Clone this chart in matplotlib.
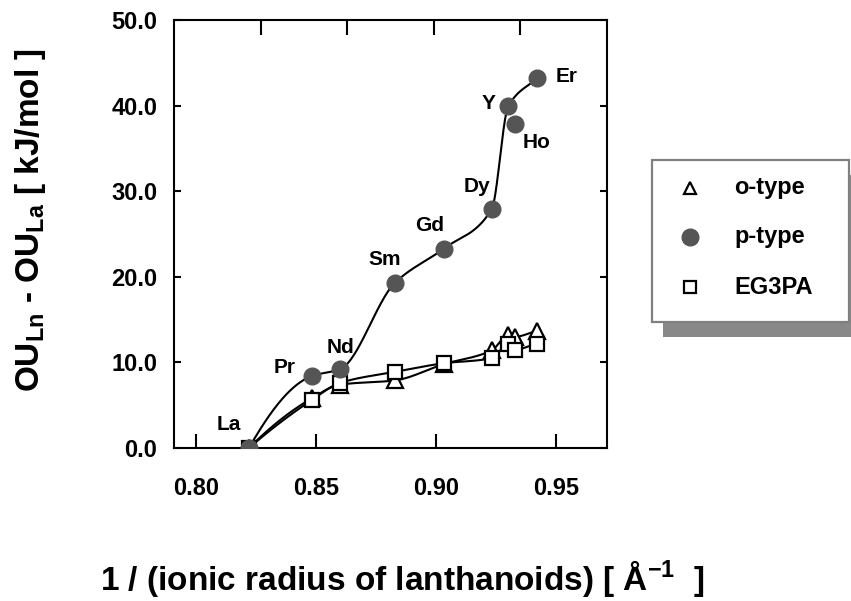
import numpy as np
import matplotlib
matplotlib.use("Agg")
import matplotlib.pyplot as plt
from matplotlib.patches import Rectangle
from matplotlib.lines import Line2D

# ---------------- data ----------------
elements = ["La", "Pr", "Nd", "Sm", "Gd", "Dy", "Y", "Ho", "Er"]
inv_radius = [0.8221, 0.8482, 0.8600, 0.8829, 0.9033, 0.9232, 0.9301, 0.9329, 0.9420]
p_type = [0.0, 8.4, 9.2, 19.3, 23.3, 27.9, 39.9, 37.9, 43.2]
o_type = [0.0, 5.8, 7.4, 7.9, 9.8, 11.4, 13.2, 13.0, 13.7]
eg3pa = [0.0, 5.6, 7.6, 8.9, 9.9, 10.5, 12.2, 11.5, 12.2]
p_on_curve = [True, True, True, True, True, True, True, False, True]

x_ticks = [0.80, 0.85, 0.90, 0.95]
x_ticklabels = ["0.80", "0.85", "0.90", "0.95"]
y_ticks = [0, 10, 20, 30, 40, 50]
y_ticklabels = ["0.0", "10.0", "20.0", "30.0", "40.0", "50.0"]

# label offsets (pixels) for element names
label_dx = [-20, -27, 0, -10, -14, -15, -20, 22, 30]
label_dy = [23, 9, 22, 23, 23, 23, 3, -19, 2]

plt.rcParams["font.family"] = ["Liberation Sans", "DejaVu Sans"]
plt.rcParams["font.weight"] = "bold"
plt.rcParams["mathtext.fontset"] = "custom"
plt.rcParams["mathtext.rm"] = "Liberation Sans:bold"
plt.rcParams["mathtext.bf"] = "Liberation Sans:bold"
plt.rcParams["mathtext.it"] = "Liberation Sans:bold"


def pchip(x, y, n=60):
    x = np.asarray(x, float)
    y = np.asarray(y, float)
    h = np.diff(x)
    delta = np.diff(y) / h
    m = np.zeros_like(x)
    for k in range(1, len(x) - 1):
        if delta[k - 1] * delta[k] <= 0:
            m[k] = 0.0
        else:
            w1 = 2 * h[k] + h[k - 1]
            w2 = h[k] + 2 * h[k - 1]
            m[k] = (w1 + w2) / (w1 / delta[k - 1] + w2 / delta[k])
    d = ((2 * h[0] + h[1]) * delta[0] - h[0] * delta[1]) / (h[0] + h[1])
    m[0] = d if np.sign(d) == np.sign(delta[0]) else delta[0]
    m[-1] = delta[-1]
    xs, ys = [], []
    for k in range(len(x) - 1):
        t = np.linspace(0, 1, n)
        h00 = 2 * t**3 - 3 * t**2 + 1
        h10 = t**3 - 2 * t**2 + t
        h01 = -2 * t**3 + 3 * t**2
        h11 = t**3 - t**2
        xs.append(x[k] + t * h[k])
        ys.append(h00 * y[k] + h10 * h[k] * m[k] + h01 * y[k + 1] + h11 * h[k] * m[k + 1])
    return np.concatenate(xs), np.concatenate(ys)


W, H = 851, 601
fig = plt.figure(figsize=(W / 100, H / 100), dpi=100)
ax = fig.add_axes([174 / W, 1 - 448 / H, (607 - 174) / W, (448 - 20) / H])

x = np.array(inv_radius)
mask = np.array(p_on_curve)

# curves
cx, cy = pchip(x[mask], np.array(p_type)[mask])
ax.plot(cx, cy, color="black", lw=1.5, zorder=2)
cx, cy = pchip(x, o_type)
ax.plot(cx, cy, color="black", lw=1.5, zorder=2)
cx, cy = pchip(x, eg3pa)
ax.plot(cx, cy, color="black", lw=1.5, zorder=2)

# markers
ax.plot(x, o_type, ls="none", marker="^", ms=11, mfc="white", mec="black", mew=1.6, zorder=3)
ax.plot(x, eg3pa, ls="none", marker="s", ms=10.5, mfc="white", mec="black", mew=1.6, zorder=3)
ax.plot(x, p_type, ls="none", marker="o", ms=12, mfc="#555555", mec="#555555", zorder=4)

for el, xi, yi, dx, dy in zip(elements, inv_radius, p_type, label_dx, label_dy):
    ax.annotate(el, (xi, yi), xytext=(dx, dy), textcoords="offset pixels",
                ha="center", va="center", fontsize=15, fontweight="bold")

ax.set_xlim(0.80 - 22 / 120 * 0.05, 0.80 + 411 / 120 * 0.05)
ax.set_ylim(0, 50)
ax.set_xticks(x_ticks)
ax.set_xticklabels(x_ticklabels)
ax.set_yticks(y_ticks)
ax.set_yticklabels(y_ticklabels)
ax.tick_params(axis="x", direction="in", length=10, width=1.5, pad=21, labelsize=17)
ax.tick_params(axis="y", direction="in", length=5, width=1.5, pad=12, labelsize=17,
               right=True)
for s in ax.spines.values():
    s.set_linewidth(1.5)

# top ticks dividing the frame into five
top = ax.twiny()
top.set_xlim(0, 1)
top.set_xticks([0.2, 0.4, 0.6, 0.8])
top.tick_params(axis="x", direction="in", length=11, width=1.5, labeltop=False)
for s in top.spines.values():
    s.set_visible(False)

fig.text(31 / W, 1 - 220 / H,
         r"$\mathbf{OU}_{\mathbf{Ln}}$ - $\mathbf{OU}_{\mathbf{La}}$ [ kJ/mol ]",
         rotation=90, ha="center", va="center", fontsize=24, fontweight="bold")
fig.text(402 / W, 1 - 590 / H,
         r"1 / (ionic radius of lanthanoids) [ Å$^{\mathbf{-1}}$  ]",
         ha="center", va="baseline", fontsize=24, fontweight="bold")


# legend (figure pixel coordinates)
def fx(px):
    return px / W


def fy(py):
    return 1 - py / H


fig.add_artist(Rectangle((fx(663), fy(337)), fx(860) - fx(663), fy(175) - fy(337),
                         transform=fig.transFigure, facecolor="#888888", edgecolor="none", zorder=1))
fig.add_artist(Rectangle((fx(652), fy(322)), fx(849) - fx(652), fy(160) - fy(322),
                         transform=fig.transFigure, facecolor="white", edgecolor="#808080",
                         lw=1.6, zorder=2))
rows = [("^", "o-type", 188, dict(ms=9, mfc="white", mec="black", mew=1.6)),
        ("o", "p-type", 237, dict(ms=12, mfc="#555555", mec="#555555")),
        ("s", "EG3PA", 287, dict(ms=9, mfc="white", mec="black", mew=1.6))]
for mk, txt, ry, kw in rows:
    fig.add_artist(Line2D([fx(690)], [fy(ry)], transform=fig.transFigure, marker=mk,
                          ls="none", zorder=3, **kw))
    fig.text(fx(734), fy(ry), txt, ha="left", va="center", fontsize=17,
             fontweight="bold", zorder=3)

fig.savefig("out.png", dpi=100)
